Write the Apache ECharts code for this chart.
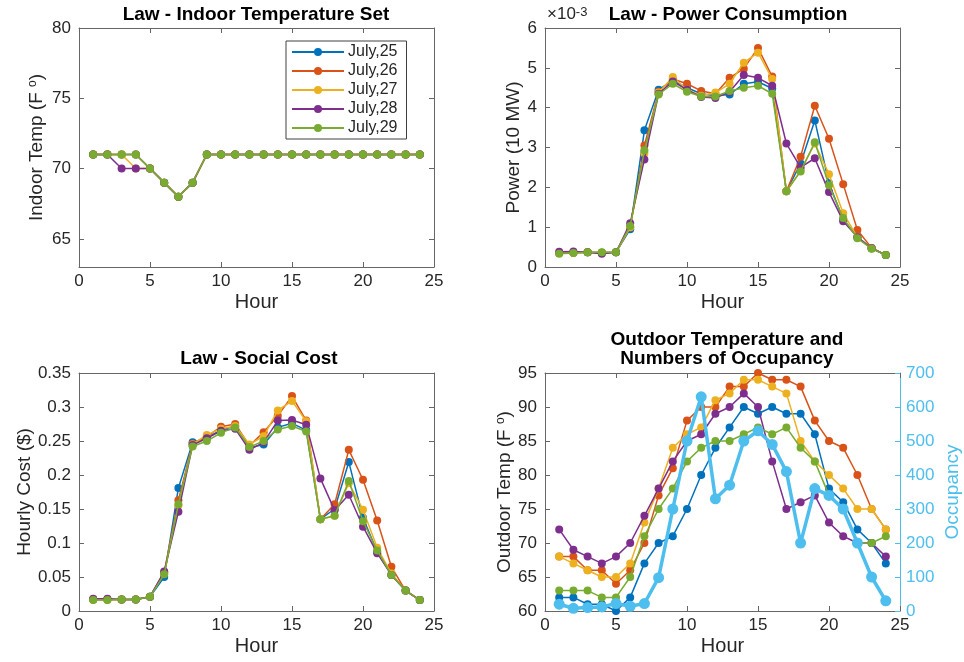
<!DOCTYPE html>
<html><head><meta charset="utf-8">
<script src="https://cdn.jsdelivr.net/npm/echarts@6/dist/echarts.min.js"></script>
<style>html,body{margin:0;padding:0;background:#fff}#c{width:964px;height:662px}</style>
</head><body><div id="c"></div>
<script>
// ---------- data ----------
const hours = [1,2,3,4,5,6,7,8,9,10,11,12,13,14,15,16,17,18,19,20,21,22,23,24];
const dayNames = ['July,25','July,26','July,27','July,28','July,29'];
const dayColors = ['#0072BD','#D95319','#EDB120','#7E2F8E','#77AC30'];

// Indoor temperature set (F)
const indoor25 = [71,71,71,71,70,69,68,69,71,71,71,71,71,71,71,71,71,71,71,71,71,71,71,71];
const indoor26 = [71,71,71,71,70,69,68,69,71,71,71,71,71,71,71,71,71,71,71,71,71,71,71,71];
const indoor27 = [71,71,71,70,70,69,68,69,71,71,71,71,71,71,71,71,71,71,71,71,71,71,71,71];
const indoor28 = [71,71,70,70,70,69,68,69,71,71,71,71,71,71,71,71,71,71,71,71,71,71,71,71];
const indoor29 = [71,71,71,71,70,69,68,69,71,71,71,71,71,71,71,71,71,71,71,71,71,71,71,71];

// Power consumption (x 10^-3, 10 MW)
const power25 = [0.35,0.36,0.37,0.36,0.37,0.95,3.43,4.45,4.68,4.50,4.35,4.30,4.33,4.60,4.65,4.48,1.90,2.60,3.68,2.10,1.20,0.75,0.47,0.30];
const power26 = [0.35,0.36,0.37,0.36,0.37,1.00,3.05,4.40,4.72,4.60,4.42,4.35,4.75,4.98,5.50,4.78,1.90,2.77,4.05,3.22,2.08,0.93,0.48,0.30];
const power27 = [0.35,0.36,0.37,0.36,0.37,1.00,2.85,4.38,4.77,4.45,4.30,4.38,4.60,5.13,5.38,4.72,1.90,2.42,3.10,2.33,1.35,0.75,0.47,0.30];
const power28 = [0.38,0.39,0.37,0.33,0.37,1.10,2.70,4.35,4.66,4.45,4.27,4.24,4.40,4.82,4.75,4.55,3.10,2.50,2.73,1.88,1.15,0.75,0.47,0.30];
const power29 = [0.33,0.35,0.37,0.37,0.37,1.03,2.93,4.33,4.60,4.40,4.28,4.28,4.42,4.50,4.55,4.35,1.90,2.40,3.13,2.05,1.23,0.72,0.46,0.30];

// Hourly social cost ($)
const cost25 = [0.017,0.017,0.017,0.017,0.021,0.050,0.181,0.248,0.255,0.266,0.272,0.240,0.245,0.270,0.276,0.266,0.135,0.150,0.219,0.137,0.087,0.053,0.030,0.016];
const cost26 = [0.017,0.017,0.017,0.017,0.021,0.057,0.163,0.246,0.256,0.271,0.275,0.243,0.263,0.287,0.316,0.280,0.135,0.157,0.237,0.193,0.133,0.065,0.030,0.016];
const cost27 = [0.017,0.017,0.017,0.017,0.021,0.055,0.155,0.245,0.259,0.268,0.272,0.245,0.257,0.295,0.309,0.279,0.135,0.140,0.188,0.149,0.093,0.055,0.030,0.016];
const cost28 = [0.018,0.018,0.017,0.017,0.021,0.058,0.146,0.244,0.254,0.265,0.268,0.237,0.248,0.280,0.281,0.274,0.195,0.148,0.171,0.124,0.085,0.053,0.030,0.016];
const cost29 = [0.016,0.016,0.017,0.017,0.021,0.054,0.157,0.242,0.250,0.262,0.270,0.241,0.250,0.267,0.272,0.264,0.135,0.140,0.191,0.132,0.089,0.053,0.030,0.016];

// Outdoor temperature (F)
const outdoor25 = [62,62,61,61,60,62,67,70,71,75,80,84,87,90,89,90,89,89,86,78,76,72,70,67];
const outdoor26 = [68,68,66,66,64,66,70,77,81,88,90,90,93,93,95,94,94,93,88,85,84,80,75,72];
const outdoor27 = [68,67,66,65,65,67,73,78,84,86,87,91,92,94,94,93,92,85,82,80,78,75,75,72];
const outdoor28 = [72,69,68,67,68,70,74,78,82,85,86,89,90,92,90,82,75,76,77,73,71,70,70,68];
const outdoor29 = [63,63,63,62,62,65,71,75,78,82,84,85,85,86,87,86,87,84,82,77,75,70,70,71];

// Occupancy (persons)
const occupancy = [20,8,10,12,22,14,22,98,300,500,630,330,370,500,530,490,410,200,360,340,300,200,100,30];

// Axis ticks
const xTicks = [0,5,10,15,20,25];
const indoorTicks = [65,70,75,80];

// ---------- chart ----------
const AX = '#262626';
const LN = '#666666';
const FONT = 'Liberation Sans, Arial, Helvetica, sans-serif';
const OCC = '#4DBEEE';
const grids = [
  {left:79, top:28, width:355, height:239},
  {left:545, top:28, width:355, height:239},
  {left:79, top:373, width:355, height:238},
  {left:545, top:373, width:355, height:238}
];

function xBottom(gi){
  return {type:'value', gridIndex:gi, min:xTicks[0], max:xTicks[xTicks.length-1], interval:5,
    name:'Hour', nameLocation:'middle', nameGap:25,
    nameTextStyle:{fontSize:20, color:AX},
    axisLine:{onZero:false, lineStyle:{color:LN, width:1}},
    axisTick:{inside:true, length:5, lineStyle:{color:LN}},
    axisLabel:{fontSize:17, color:AX, margin:6},
    splitLine:{show:false}};
}
function xTop(gi){
  return {type:'value', gridIndex:gi, position:'top', min:0, max:25, interval:5,
    axisLine:{onZero:false, lineStyle:{color:LN, width:1}},
    axisTick:{inside:true, length:5, lineStyle:{color:LN}},
    axisLabel:{show:false}, splitLine:{show:false}};
}
function yLeft(gi, cfg){
  return Object.assign({type:'value', gridIndex:gi, position:'left',
    nameLocation:'middle', nameRotate:90,
    nameTextStyle:{fontSize:19, color:AX, rich:{sup:{fontSize:12, color:AX, verticalAlign:'top', lineHeight:19}}},
    axisLine:{show:true, onZero:false, lineStyle:{color:LN, width:1}},
    axisTick:{show:true, inside:true, length:5, lineStyle:{color:LN}},
    axisLabel:{fontSize:17, color:AX, margin:8},
    splitLine:{show:false}}, cfg);
}
function yRightMirror(gi, cfg){
  return Object.assign({type:'value', gridIndex:gi, position:'right',
    axisLine:{show:true, onZero:false, lineStyle:{color:LN, width:1}},
    axisTick:{show:true, inside:true, length:5, lineStyle:{color:LN}},
    axisLabel:{show:false}, splitLine:{show:false}}, cfg);
}

const xAxis = [xBottom(0), xBottom(1), xBottom(2), xBottom(3), xTop(0), xTop(1), xTop(2), xTop(3)];
const yAxis = [
  yLeft(0, {min:63, max:80, name:'Indoor Temp (F {sup|o})', nameGap:33,
    axisTick:{show:true, inside:true, length:5, lineStyle:{color:LN}, customValues:indoorTicks},
    axisLabel:{fontSize:17, color:AX, margin:8, customValues:indoorTicks}}),
  yLeft(1, {min:0, max:6, interval:1, name:'Power (10 MW)', nameGap:22}),
  yLeft(2, {min:0, max:0.35, interval:0.05, name:'Hourly Cost ($)', nameGap:45}),
  yLeft(3, {min:60, max:95, interval:5, name:'Outdoor Temp (F {sup|o})', nameGap:31}),
  yRightMirror(0, {min:63, max:80, axisTick:{show:true, inside:true, length:5, lineStyle:{color:LN}, customValues:indoorTicks}}),
  yRightMirror(1, {min:0, max:6, interval:1}),
  yRightMirror(2, {min:0, max:0.35, interval:0.05}),
  {type:'value', gridIndex:3, position:'right', min:0, max:700, interval:100,
    name:'Occupancy', nameLocation:'middle', nameRotate:90, nameGap:43,
    nameTextStyle:{fontSize:19, color:OCC},
    axisLine:{show:true, onZero:false, lineStyle:{color:OCC, width:1}},
    axisTick:{show:true, inside:true, length:5, lineStyle:{color:OCC}},
    axisLabel:{fontSize:17, color:OCC, margin:6},
    splitLine:{show:false}}
];

const panelData = [
  [indoor25, indoor26, indoor27, indoor28, indoor29],
  [power25, power26, power27, power28, power29],
  [cost25, cost26, cost27, cost28, cost29],
  [outdoor25, outdoor26, outdoor27, outdoor28, outdoor29]
];
const series = [];
panelData.forEach((arrs, gi) => {
  arrs.forEach((vals, k) => {
    series.push({type:'line', name:dayNames[k], xAxisIndex:gi, yAxisIndex:gi,
      data: hours.map((h,i) => [h, vals[i]]),
      symbol:'circle', symbolSize:8, showAllSymbol:true,
      lineStyle:{width:1.5, color:dayColors[k]},
      itemStyle:{color:dayColors[k]}, z:2+k*0.01});
  });
});
series.push({type:'line', name:'Occupancy', xAxisIndex:3, yAxisIndex:7,
  data: hours.map((h,i) => [h, occupancy[i]]),
  symbol:'circle', symbolSize:11, showAllSymbol:true,
  lineStyle:{width:3.5, color:OCC}, itemStyle:{color:OCC}, z:5});

const titleStyle = {fontSize:19, fontWeight:'bold', color:'#000', fontFamily:FONT, lineHeight:19};
const chart = echarts.init(document.getElementById('c'), null, {renderer:'canvas'});
chart.setOption({
  animation:false,
  backgroundColor:'#fff',
  textStyle:{fontFamily:FONT},
  title:[
    {text:'Law - Indoor Temperature Set', left:256, top:5, textAlign:'center', padding:0, textStyle:titleStyle},
    {text:'Law - Power Consumption', left:728, top:5, textAlign:'center', padding:0, textStyle:titleStyle},
    {text:'Law - Social Cost', left:259, top:349, textAlign:'center', padding:0, textStyle:titleStyle},
    {text:'Outdoor Temperature and\nNumbers of Occupancy', left:727, top:330, textAlign:'center', padding:0, textStyle:titleStyle}
  ],
  grid: grids,
  xAxis: xAxis,
  yAxis: yAxis,
  legend:{data:dayNames, orient:'vertical', left:286, top:41, padding:[3,9,3,5],
    itemWidth:52, itemHeight:10, itemGap:3,
    borderColor:'#404040', borderWidth:1, backgroundColor:'#fff',
    textStyle:{fontSize:16, color:AX, lineHeight:15, padding:[0,0,0,-1]},
    selectedMode:false},
  graphic:[{type:'text', left:547, top:6,
    style:{text:'{a|×10}{b|-3}', rich:{a:{fontSize:17, fill:AX, fontFamily:FONT}, b:{fontSize:13, fill:AX, fontFamily:FONT, verticalAlign:'top'}}}}],
  series: series
});
</script></body></html>
